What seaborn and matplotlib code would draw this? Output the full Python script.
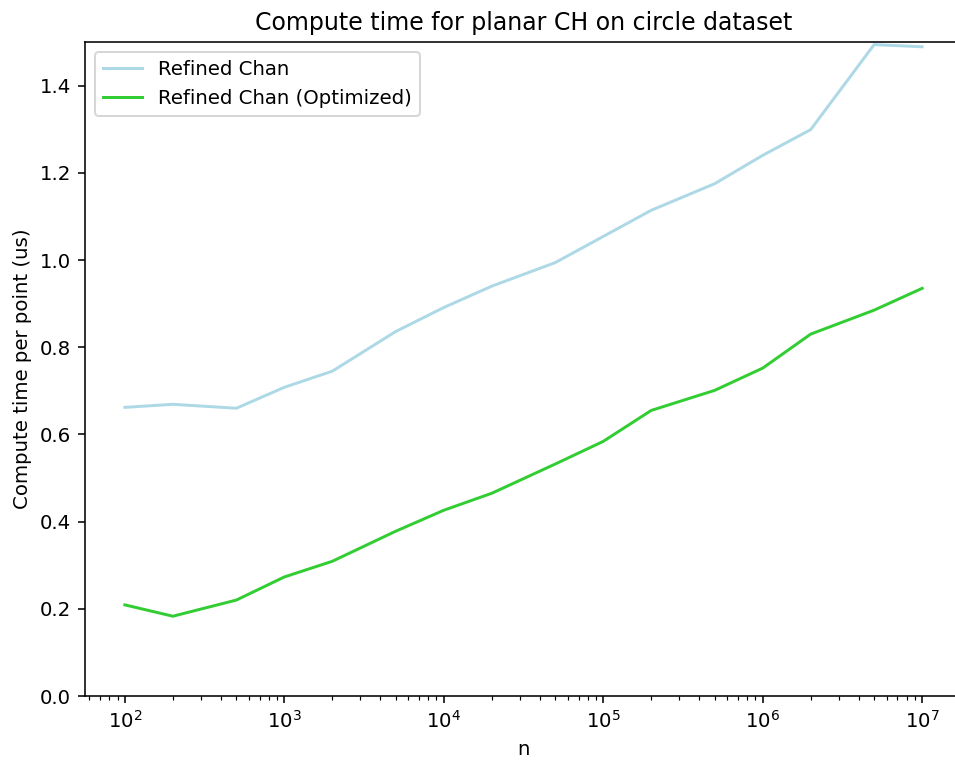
import numpy as np
import pandas as pd
import matplotlib
matplotlib.use("Agg")
import matplotlib.pyplot as plt
import seaborn as sns

n_values = [100, 200, 500, 1000, 2000, 5000, 10000, 20000, 50000,
            100000, 200000, 500000, 1000000, 2000000, 5000000, 10000000]
refined_chan = [0.662, 0.669, 0.660, 0.708, 0.745, 0.836, 0.891, 0.940,
                0.994, 1.054, 1.114, 1.175, 1.240, 1.299, 1.494, 1.489]
refined_chan_opt = [0.209, 0.183, 0.220, 0.273, 0.309, 0.378, 0.426, 0.465,
                    0.532, 0.584, 0.655, 0.701, 0.752, 0.830, 0.885, 0.935]
series_names = ["Refined Chan", "Refined Chan (Optimized)"]
series_colors = ["lightblue", "limegreen"]

df = pd.DataFrame({
    "n": n_values * 2,
    "time": refined_chan + refined_chan_opt,
    "method": [series_names[0]] * len(n_values) + [series_names[1]] * len(n_values),
})

DPI = 142
fig = plt.figure(figsize=(955 / DPI, 761 / DPI), dpi=DPI)
ax = fig.add_axes([85 / 955, 1 - 696 / 761, 877 / 955, (696 - 42) / 761])

sns.lineplot(data=df, x="n", y="time", hue="method",
             palette=dict(zip(series_names, series_colors)), ax=ax, linewidth=1.5)

ax.set_xscale("log")
ax.set_ylim(0, 1.5)
ax.set_yticks([0.0, 0.2, 0.4, 0.6, 0.8, 1.0, 1.2, 1.4])
ax.set_xlabel("n")
ax.set_ylabel("Compute time per point (us)")
ax.set_title("Compute time for planar CH on circle dataset")
ax.legend(loc="upper left", title=None)

fig.savefig("out.png", dpi=DPI)
